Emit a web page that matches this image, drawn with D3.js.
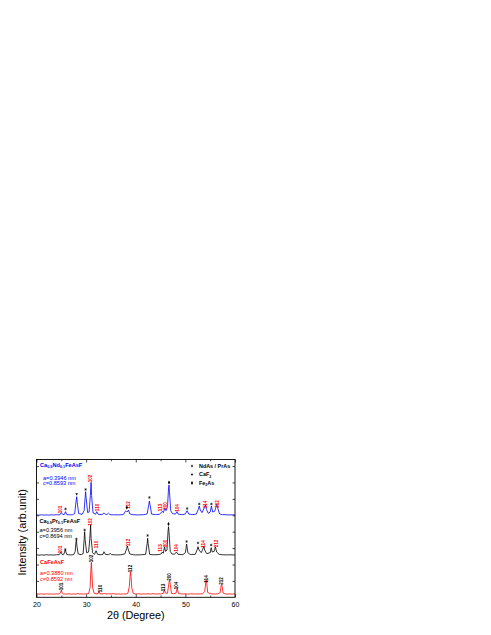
<!DOCTYPE html>
<html><head><meta charset="utf-8">
<script src="https://cdn.jsdelivr.net/npm/d3@7"></script>
<style>body{margin:0;background:#fff}svg{display:block}text{font-family:"Liberation Sans",Arial,sans-serif}</style>
</head><body>
<svg id="c" width="491" height="635"></svg>
<script>
// ---------- data ----------
const xTicks=[20,30,40,50,60];
const xMinorTicks=[25,35,45,55];
const yTicks=[250,500,750,1000,1250,1500,1750,2000];

// Ca0.9Nd0.1FeAsF (blue, top)
const blueTrace=[[20,1256],[20.5,1252],[21,1257],[21.5,1253],[22,1256],[22.5,1253],[23,1257],[23.5,1254],[24,1258],[24.7,1258],[25.0,1289],[25.3,1260],[25.6,1262],[25.85,1305],[26.1,1260],[26.6,1257],[27.2,1258],[27.7,1275],[27.95,1450],[28.1,1533],[28.25,1420],[28.5,1275],[29.2,1265],[29.6,1320],[29.8,1520],[29.9,1609],[30.0,1520],[30.3,1290],[30.6,1300],[30.85,1550],[31.0,1752],[31.1,1550],[31.4,1285],[31.9,1265],[32.15,1305],[32.4,1265],[33.2,1260],[33.6,1285],[33.9,1265],[34.2,1262],[34.5,1282],[34.8,1260],[35.5,1257],[36.5,1256],[37.5,1260],[37.9,1310],[38.05,1320],[38.3,1300],[38.55,1330],[38.8,1270],[39.5,1258],[40.5,1256],[41.5,1258],[42.3,1270],[42.6,1400],[42.75,1468],[42.9,1400],[43.2,1268],[44,1260],[44.8,1265],[45.35,1310],[45.55,1290],[45.85,1356],[46.1,1320],[46.4,1380],[46.6,1650],[46.7,1711],[46.8,1600],[47.05,1320],[47.4,1275],[48.0,1268],[48.3,1305],[48.6,1265],[49.5,1260],[50.0,1270],[50.35,1320],[50.7,1268],[51.5,1260],[52.2,1268],[52.6,1340],[52.8,1391],[53.0,1330],[53.35,1290],[53.8,1360],[54.05,1406],[54.25,1340],[54.6,1280],[55.0,1300],[55.25,1391],[55.5,1300],[55.9,1310],[56.2,1380],[56.35,1422],[56.55,1350],[56.9,1270],[57.5,1260],[58.5,1256],[59.5,1257],[60,1255]];

// Ca0.9Pr0.1FeAsF (black, middle)
const blackTrace=[[20,648],[20.5,642],[21,647],[21.5,643],[22,648],[22.5,644],[23,647],[23.5,644],[24,648],[24.6,650],[24.9,690],[25.2,652],[25.5,655],[25.8,720],[26.1,652],[26.5,648],[27,646],[27.5,650],[27.8,700],[27.95,840],[28.05,873],[28.15,780],[28.4,660],[29,650],[29.4,665],[29.6,880],[29.7,1000],[29.8,880],[30.1,680],[30.5,690],[30.75,900],[30.9,1100],[31.0,900],[31.3,680],[31.7,655],[32.0,710],[32.3,655],[33,648],[33.4,655],[33.6,695],[33.9,652],[34.5,650],[34.9,668],[35.1,650],[36,646],[37,648],[37.8,660],[38.15,740],[38.3,782],[38.45,740],[38.8,660],[39.5,648],[40,646],[41,648],[42,655],[42.3,820],[42.4,900],[42.5,820],[42.8,655],[43.5,648],[44.5,650],[45.1,660],[45.35,690],[45.55,672],[45.8,771],[46.0,700],[46.3,720],[46.5,1000],[46.6,1076],[46.7,1000],[46.95,700],[47.3,660],[47.8,656],[48.2,690],[48.5,655],[49.5,650],[50.0,680],[50.25,812],[50.5,680],[51,652],[52,655],[52.35,720],[52.55,771],[52.75,720],[53.2,680],[53.5,730],[53.7,782],[53.9,720],[54.3,665],[55,680],[55.2,756],[55.4,690],[55.8,700],[56.05,771],[56.3,690],[56.8,655],[57.5,648],[58.5,646],[59,648],[60,645]];

// CaFeAsF (red, bottom)
const redTrace=[[20,55],[20.5,48],[21,52],[21.5,47],[22,53],[22.5,49],[23,51],[23.5,48],[24,52],[24.6,50],[24.85,70],[25.0,111],[25.15,70],[25.4,52],[26,49],[26.5,53],[27,48],[27.5,51],[28,50],[28.3,58],[28.6,50],[29,52],[29.5,49],[30,53],[30.5,55],[30.8,150],[30.95,400],[31.05,533],[31.15,400],[31.3,150],[31.6,62],[32,52],[32.4,55],[32.6,90],[32.8,55],[33.2,50],[33.7,58],[34,51],[34.5,55],[35,50],[35.5,56],[36,49],[36.5,52],[37,48],[37.5,51],[38,50],[38.4,58],[38.7,160],[38.85,320],[38.95,390],[39.05,320],[39.2,140],[39.5,58],[40,50],[40.5,53],[41,49],[41.5,52],[42,50],[42.5,53],[43,49],[43.5,55],[44,50],[44.5,52],[45,51],[45.5,58],[45.75,111],[46.0,62],[46.4,62],[46.65,200],[46.8,262],[46.95,200],[47.2,60],[47.6,55],[48.1,62],[48.35,137],[48.6,60],[49,52],[49.5,50],[50,52],[50.5,49],[51,52],[51.5,50],[52,51],[52.5,50],[53,52],[53.5,54],[53.9,90],[54.1,220],[54.2,264],[54.3,220],[54.5,75],[54.9,56],[55.5,51],[56,50],[56.5,53],[57.0,70],[57.2,170],[57.3,198],[57.4,170],[57.6,65],[58,52],[58.5,50],[59,51],[59.5,49],[60,52]];

// hkl labels [2theta, intensity, text]
const hklBlue=[[24.74,1338,"101"],[30.95,1810,"102"],[32.19,1369,"110"],[38.44,1407,"112"],[45.03,1369,"113"],[46.04,1391,"200"],[48.31,1361,"104"],[54.1,1414,"114"],[56.37,1422,"212"]];
const hklBlack=[[24.74,728,"101"],[30.9,1148,"102"],[32.1,805,"110"],[38.44,835,"112"],[45.03,751,"113"],[46.0,820,"200"],[48.2,751,"104"],[53.7,812,"114"],[56.2,820,"212"]];
const hklRed=[[24.94,165,"101"],[30.98,591,"102"],[32.8,134,"110"],[38.84,439,"112"],[45.49,149,"113"],[46.7,309,"200"],[48.25,180,"104"],[54.16,279,"114"],[57.3,248,"212"]];

// impurity markers [2theta, intensity, phase]
const markBlue=[[25.85,1346,"imp"],[28.1,1574,"caf"],[29.9,1643,"imp"],[38.2,1369,"fe"],[42.75,1521,"imp"],[46.7,1750,"fe"],[50.35,1353,"imp"],[52.8,1422,"imp"],[55.25,1422,"imp"]];
const markBlack=[[25.8,728,"imp"],[28.05,888,"imp"],[29.7,1026,"imp"],[42.4,942,"imp"],[46.6,1117,"fe"],[50.25,850,"imp"],[52.55,828,"imp"],[55.2,797,"imp"]];

const legendItems=[["imp","NdAs / PrAs",""],["caf","CaF","2"],["fe","Fe","2","As"]];

// sample descriptions: name parts [text, isSub]
const samples=[
 {color:"#0000ff",name:[["Ca",0],["0.9",1],["Nd",0],["0.1",1],["FeAsF",0]],a:"a=0.3946 nm",c:"c=0.8593 nm"},
 {color:"#000000",name:[["Ca",0],["0.9",1],["Pr",0],["0.1",1],["FeAsF",0]],a:"a=0.3956 nm",c:"c=0.8694 nm"},
 {color:"#ff0000",name:[["CaFeAsF",0]],a:"a=0.3880 nm",c:"c=0.8592 nm"}
];
const xTitle="2θ (Degree)";
const yTitle="Intensity (arb.unit)";

// ---------- drawing ----------
const svg=d3.select("#c");
const L=36.5,R=235,T=459.5,B=597.3;
const x=d3.scaleLinear().domain([20,60]).range([L,R]);
const y=d3.scaleLinear().domain([0,2100]).range([B,T]);

svg.append("defs").append("clipPath").attr("id","pc").append("rect")
  .attr("x",L).attr("y",T).attr("width",R-L).attr("height",B-T);

const line=d3.line().x(d=>x(d[0])).y(d=>y(d[1]));
const traces=[[blueTrace,"#0000ff"],[blackTrace,"#000000"],[redTrace,"#ff0000"]];
const g=svg.append("g").attr("clip-path","url(#pc)");
traces.forEach(([t,c])=>{
  g.append("path").datum(t).attr("d",line).attr("fill","none").attr("stroke",c).attr("stroke-width",0.8).attr("stroke-linejoin","round");
});

// axes
function styleAxis(sel){sel.select(".domain").remove();sel.selectAll("line").attr("stroke","#000").attr("stroke-width",0.7);}
const bx=svg.append("g").attr("transform",`translate(0,${B})`)
  .call(d3.axisBottom(x).tickValues(xTicks).tickSizeInner(-3).tickSizeOuter(0).tickPadding(5).tickFormat(d3.format("d")));
styleAxis(bx);
bx.selectAll("text").attr("font-size",7).attr("fill","#000");
const bxm=svg.append("g").attr("transform",`translate(0,${B})`).call(d3.axisBottom(x).tickValues(xMinorTicks).tickSizeInner(-1.8).tickSizeOuter(0).tickFormat(""));
styleAxis(bxm);
const tx=svg.append("g").attr("transform",`translate(0,${T})`).call(d3.axisTop(x).tickValues(xTicks).tickSizeInner(-3).tickSizeOuter(0).tickFormat(""));
styleAxis(tx);
const txm=svg.append("g").attr("transform",`translate(0,${T})`).call(d3.axisTop(x).tickValues(xMinorTicks).tickSizeInner(-1.8).tickSizeOuter(0).tickFormat(""));
styleAxis(txm);
const ly=svg.append("g").attr("transform",`translate(${L},0)`).call(d3.axisLeft(y).tickValues(yTicks).tickSizeInner(-2.5).tickSizeOuter(0).tickFormat(""));
styleAxis(ly);
const ry=svg.append("g").attr("transform",`translate(${R},0)`).call(d3.axisRight(y).tickValues(yTicks).tickSizeInner(-2.5).tickSizeOuter(0).tickFormat(""));
styleAxis(ry);

svg.append("rect").attr("x",L).attr("y",T).attr("width",R-L).attr("height",B-T)
  .attr("fill","none").attr("stroke","#000").attr("stroke-width",0.9);

// axis titles
svg.append("text").attr("x",(L+R)/2).attr("y",619).attr("text-anchor","middle").attr("font-size",10.8).text(xTitle);
svg.append("text").attr("transform",`translate(25.5,${(T+B)/2+4}) rotate(-90)`).attr("text-anchor","middle").attr("font-size",10.8).text(yTitle);

// hkl labels
function hkl(arr,color){
  svg.selectAll(null).data(arr).enter().append("text")
    .attr("transform",d=>`translate(${x(d[0])},${y(d[1])}) rotate(-90)`)
    .attr("text-anchor","middle").attr("dy","0.35em")
    .attr("font-size",4.6).attr("font-weight","bold").attr("fill",color).text(d=>d[2]);
}
hkl(hklBlue,"#ff0000");hkl(hklBlack,"#ff0000");hkl(hklRed,"#000000");

// markers
const symType={imp:d3.symbolAsterisk,caf:d3.symbolTriangle2,fe:d3.symbolDiamond};
const symSize={imp:5,caf:5,fe:4.5};
function drawMark(sel,type){
  const p=sel.append("path").attr("d",d3.symbol().type(symType[type]).size(symSize[type])());
  if(type==="imp") p.attr("fill","none").attr("stroke","#000").attr("stroke-width",0.55);
  else p.attr("fill","#000");
  return p;
}
[...markBlue,...markBlack].forEach(d=>{
  const gg=svg.append("g").attr("transform",`translate(${x(d[0])},${y(d[1])})${d[2]==="caf"?" rotate(180)":""}`);
  drawMark(gg,d[2]);
});

// legend
const legX=192, legY=[466,474.5,483];
legendItems.forEach((it,i)=>{
  const gg=svg.append("g").attr("transform",`translate(${legX},${legY[i]})${it[0]==="caf"?" rotate(180)":""}`);
  drawMark(gg,it[0]);
  const t=svg.append("text").attr("x",legX+7).attr("y",legY[i]).attr("dy","0.35em").attr("font-size",5.4).attr("font-weight","bold");
  t.append("tspan").text(it[1]);
  if(it[2]) t.append("tspan").attr("font-size",3.6).attr("dy","1.2").text(it[2]);
  if(it[3]) t.append("tspan").attr("dy","-1.2").text(it[3]);
});

// sample texts
const sampleY=[[466.5,478,483.5],[522.5,530.5,536.5],[564,573,579]];
const sampleX=[[40,43],[39.5,39.5],[40,40]];
samples.forEach((s,i)=>{
  const t=svg.append("text").attr("x",sampleX[i][0]).attr("y",sampleY[i][0]).attr("dy","0.35em")
    .attr("font-size",5.6).attr("font-weight","bold").attr("fill",s.color);
  let prevSub=0;
  s.name.forEach(([txt,sub])=>{
    const sp=t.append("tspan").text(txt);
    if(sub){sp.attr("font-size",3.8).attr("dy",prevSub?0:1.3);}
    else{sp.attr("dy",prevSub?-1.3:0);}
    prevSub=sub;
  });
  svg.append("text").attr("x",sampleX[i][1]).attr("y",sampleY[i][1]).attr("dy","0.35em").attr("font-size",5.6).attr("fill",s.color).text(s.a);
  svg.append("text").attr("x",sampleX[i][1]).attr("y",sampleY[i][2]).attr("dy","0.35em").attr("font-size",5.6).attr("fill",s.color).text(s.c);
});
</script>
</body></html>
